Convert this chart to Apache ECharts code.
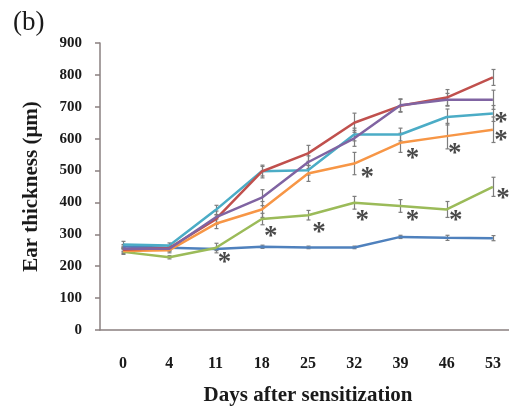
<!DOCTYPE html>
<html>
<head>
<meta charset="utf-8">
<script src="https://cdn.jsdelivr.net/npm/echarts@6/dist/echarts.min.js"></script>
<style>
html,body{margin:0;padding:0;background:#fff;}
#chart{width:509px;height:406px;}
</style>
</head>
<body>
<div id="chart"></div>
<script>
// Days after sensitization (category axis)
var days = ['0', '4', '11', '18', '25', '32', '39', '46', '53'];
var yTicks = [0, 100, 200, 300, 400, 500, 600, 700, 800, 900];

// Mean ear thickness (μm) per group
var blueVals   = [262, 258, 254, 261, 259, 259, 292, 289, 288];
var greenVals  = [245, 228, 257, 348, 360, 399, 389, 378, 449];
var orangeVals = [248, 250, 333, 378, 491, 522, 587, 608, 628];
var cyanVals   = [268, 265, 376, 498, 501, 613, 613, 668, 679];
var purpleVals = [255, 255, 353, 415, 526, 601, 705, 722, 722];
var redVals    = [252, 257, 347, 497, 554, 650, 703, 729, 792];

// Standard errors (μm)
var blueErr   = [6, 5, 5, 5, 4, 4, 5, 8, 8];
var greenErr  = [8, 5, 15, 18, 15, 20, 20, 25, 30];
var orangeErr = [8, 8, 15, 25, 25, 35, 30, 40, 40];
var cyanErr   = [10, 8, 15, 15, 15, 20, 20, 25, 25];
var purpleErr = [8, 8, 20, 25, 20, 25, 20, 20, 30];
var redErr    = [8, 8, 15, 20, 25, 30, 20, 25, 25];

// Significance markers: day index, value level, horizontal nudge (px)
var starIdx = [2, 3, 4, 5, 5, 6, 6, 7, 7, 8, 8, 8];
var starVal = [229, 310, 323, 361, 495, 555, 361, 571, 361, 668, 611, 430];
var starDx  = [9, 9, 11, 8, 13, 12, 12, 8, 9, 8, 8, 10];

var groups = [
  {vals: blueVals,   err: blueErr,   color: '#4f81bd'},
  {vals: greenVals,  err: greenErr,  color: '#9bbb59'},
  {vals: orangeVals, err: orangeErr, color: '#f79646'},
  {vals: cyanVals,   err: cyanErr,   color: '#4bacc6'},
  {vals: redVals,    err: redErr,    color: '#c0504d'},
  {vals: purpleVals, err: purpleErr, color: '#8064a2'}
];

var FONT = '"Liberation Serif", "Times New Roman", serif';
var AXIS_COLOR = '#8a8080';

var series = [];
// error bars first, lines on top
groups.forEach(function (g) {
  series.push({
    type: 'custom',
    z: 2,
    silent: true,
    data: g.vals.map(function (v, i) { return [i, v - g.err[i], v + g.err[i]]; }),
    renderItem: function (params, api) {
      var lo = api.coord([api.value(0), api.value(1)]);
      var hi = api.coord([api.value(0), api.value(2)]);
      var x = Math.round(lo[0]) + 0.5, c = 2;
      var st = {stroke: '#7d7d7d', lineWidth: 1.2};
      return {type: 'group', children: [
        {type: 'line', shape: {x1: x, y1: lo[1], x2: x, y2: hi[1]}, style: st},
        {type: 'line', shape: {x1: x - c, y1: lo[1], x2: x + c, y2: lo[1]}, style: st},
        {type: 'line', shape: {x1: x - c, y1: hi[1], x2: x + c, y2: hi[1]}, style: st}
      ]};
    }
  });
});
groups.forEach(function (g) {
  series.push({
    type: 'line',
    z: 3,
    data: g.vals,
    symbol: 'none',
    lineStyle: {color: g.color, width: 2.5},
    itemStyle: {color: g.color},
    silent: true
  });
});
series.push({
  type: 'scatter',
  z: 5,
  silent: true,
  symbolSize: 0,
  data: starIdx.map(function (d, i) { return [d, starVal[i]]; }),
  label: {
    show: true,
    position: 'inside',
    formatter: '*',
    fontFamily: FONT,
    fontWeight: 'bold',
    fontSize: 27,
    color: '#1a1a1a'
  },
  labelLayout: function (p) {
    return {dx: starDx[p.dataIndex], dy: 6};
  }
});

var chart = echarts.init(document.getElementById('chart'));
chart.setOption({
  animation: false,
  backgroundColor: '#fff',
  grid: {left: 100, right: -7, top: 43, bottom: 76, containLabel: false, outerBoundsMode: 'none'},
  graphic: [{
    type: 'text', left: 13, top: 9,
    style: {text: '(b)', font: '27px ' + FONT, fill: '#1a1a1a'}
  }],
  xAxis: [{
    type: 'category',
    data: days,
    boundaryGap: true,
    axisLine: {lineStyle: {color: AXIS_COLOR, width: 1.5}},
    axisTick: {alignWithLabel: true, length: 4, lineStyle: {color: AXIS_COLOR, width: 1.5}},
    axisLabel: {margin: 26, fontFamily: FONT, fontWeight: 'bold', fontSize: 16, color: '#1a1a1a'},
    name: 'Days after sensitization',
    nameLocation: 'middle',
    nameGap: 55,
    nameTextStyle: {fontFamily: FONT, fontWeight: 'bold', fontSize: 21, color: '#1a1a1a'}
  }, {
    type: 'category',
    data: days,
    position: 'bottom',
    boundaryGap: true,
    axisLine: {show: false},
    axisTick: {alignWithLabel: true, inside: true, length: 3, lineStyle: {color: AXIS_COLOR, width: 1.5}},
    axisLabel: {show: false}
  }],
  yAxis: {
    type: 'value',
    min: yTicks[0],
    max: yTicks[yTicks.length - 1],
    interval: 100,
    splitLine: {show: false},
    axisLine: {show: true, lineStyle: {color: AXIS_COLOR, width: 1.5}},
    axisTick: {show: true, length: 5, lineStyle: {color: AXIS_COLOR, width: 1.5}},
    axisLabel: {margin: 18, fontFamily: FONT, fontWeight: 'bold', fontSize: 15, color: '#1a1a1a'},
    name: 'Ear thickness (μm)',
    nameLocation: 'middle',
    nameRotate: 90,
    nameGap: 58,
    nameTextStyle: {fontFamily: FONT, fontWeight: 'bold', fontSize: 21, color: '#1a1a1a'}
  },
  series: series
});
</script>
</body>
</html>
